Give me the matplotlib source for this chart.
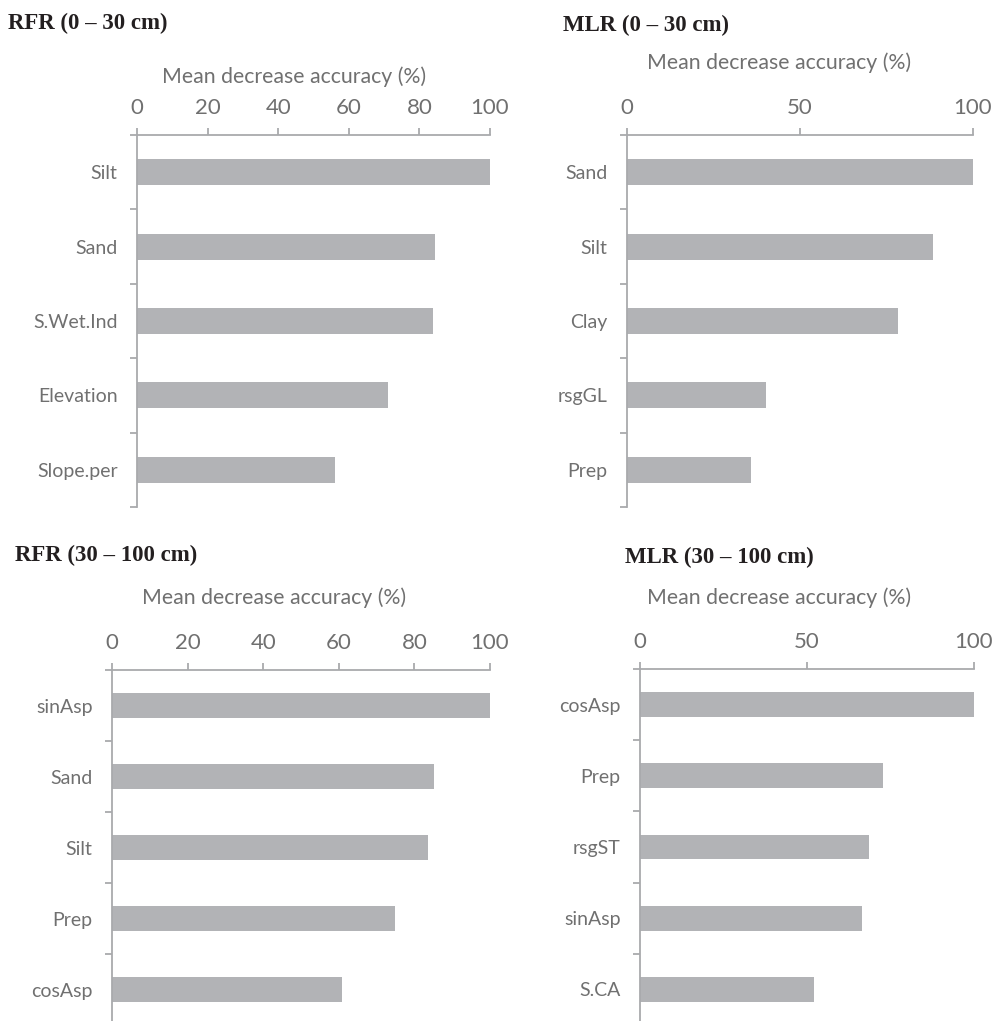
import matplotlib
matplotlib.use('Agg')
import matplotlib.pyplot as plt
import numpy as np

###############################
# data
###############################
rfr_top_labels = ['Silt', 'Sand', 'S.Wet.Ind', 'Elevation', 'Slope.per']
rfr_top_values = [100.0, 84.5, 83.8, 71.0, 56.2]

mlr_top_labels = ['Sand', 'Silt', 'Clay', 'rsgGL', 'Prep']
mlr_top_values = [100.0, 88.3, 78.3, 40.1, 35.7]

rfr_sub_labels = ['sinAsp', 'Sand', 'Silt', 'Prep', 'cosAsp']
rfr_sub_values = [100.0, 85.2, 83.6, 74.9, 60.8]

mlr_sub_labels = ['cosAsp', 'Prep', 'rsgST', 'sinAsp', 'S.CA']
mlr_sub_values = [100.0, 72.7, 68.7, 66.6, 52.2]

rfr_xticks = [0, 20, 40, 60, 80, 100]
mlr_xticks = [0, 50, 100]

axis_title = 'Mean decrease accuracy (%)'

###############################
# style
###############################
W, H = 992, 1021
DPI = 100
bar_col = '#b2b3b6'
line_col = '#a9aaad'
text_col = '#707070'
sans = ['Lato', 'DejaVu Sans']
serif = ['Liberation Serif', 'DejaVu Serif']

fig = plt.figure(figsize=(W / DPI, H / DPI), dpi=DPI)


def px_axes(left, top, right, bottom):
    # pixel box -> figure fraction
    return fig.add_axes([left / W, 1 - bottom / H, (right - left) / W, (bottom - top) / H])


def fig_text(x, y, s, **kw):
    fig.text(x / W, 1 - y / H, s, **kw)


def bar_panel(box, labels, values, xticks, title, title_xy, xlabel_xy):
    ax = px_axes(*box)
    n = len(labels)
    y_pos = np.arange(n)
    ax.barh(y_pos, values, height=0.35, color=bar_col, edgecolor='none', zorder=2)
    ax.set_xlim(0, 100)
    ax.set_ylim(n - 0.5, -0.5)

    for side in ['right', 'bottom']:
        ax.spines[side].set_visible(False)
    for side in ['top', 'left']:
        ax.spines[side].set_color(line_col)
        ax.spines[side].set_linewidth(1.3)

    ax.xaxis.tick_top()
    ax.set_xticks(xticks)
    ax.set_xticklabels([str(t) for t in xticks], fontsize=16, color=text_col,
                       family=sans)
    ax.tick_params(axis='x', direction='out', length=5, width=1.3, color=line_col, pad=7)

    ax.set_yticks(y_pos)
    ax.set_yticklabels(labels, fontsize=14, color=text_col, family=sans)
    ax.tick_params(axis='y', which='major', length=0, pad=14)
    ax.set_yticks(np.arange(n + 1) - 0.5, minor=True)
    ax.tick_params(axis='y', which='minor', direction='out', length=5, width=1.3,
                   color=line_col)
    ax.set_facecolor('none')

    fig_text(xlabel_xy[0], xlabel_xy[1], axis_title, fontsize=15.3, color=text_col,
             family=sans, ha='center', va='center')
    fig_text(title_xy[0], title_xy[1], title, fontsize=16.5, fontweight='bold',
             family=serif, color='#231f20', ha='left', va='center')
    return ax


bar_panel((137, 135, 490, 507), rfr_top_labels, rfr_top_values, rfr_xticks,
          'RFR (0 \u2013 30 cm)', (8, 23), (294, 77))
bar_panel((627, 135, 973, 507), mlr_top_labels, mlr_top_values, mlr_xticks,
          'MLR (0 \u2013 30 cm)', (563, 25), (779, 63))
bar_panel((112, 670, 490, 1025), rfr_sub_labels, rfr_sub_values, rfr_xticks,
          'RFR (30 \u2013 100 cm)', (15, 555), (274, 598))
bar_panel((640, 669, 974, 1025), mlr_sub_labels, mlr_sub_values, mlr_xticks,
          'MLR (30 \u2013 100 cm)', (625, 557), (779, 598))

plt.savefig('out.png', dpi=DPI)
